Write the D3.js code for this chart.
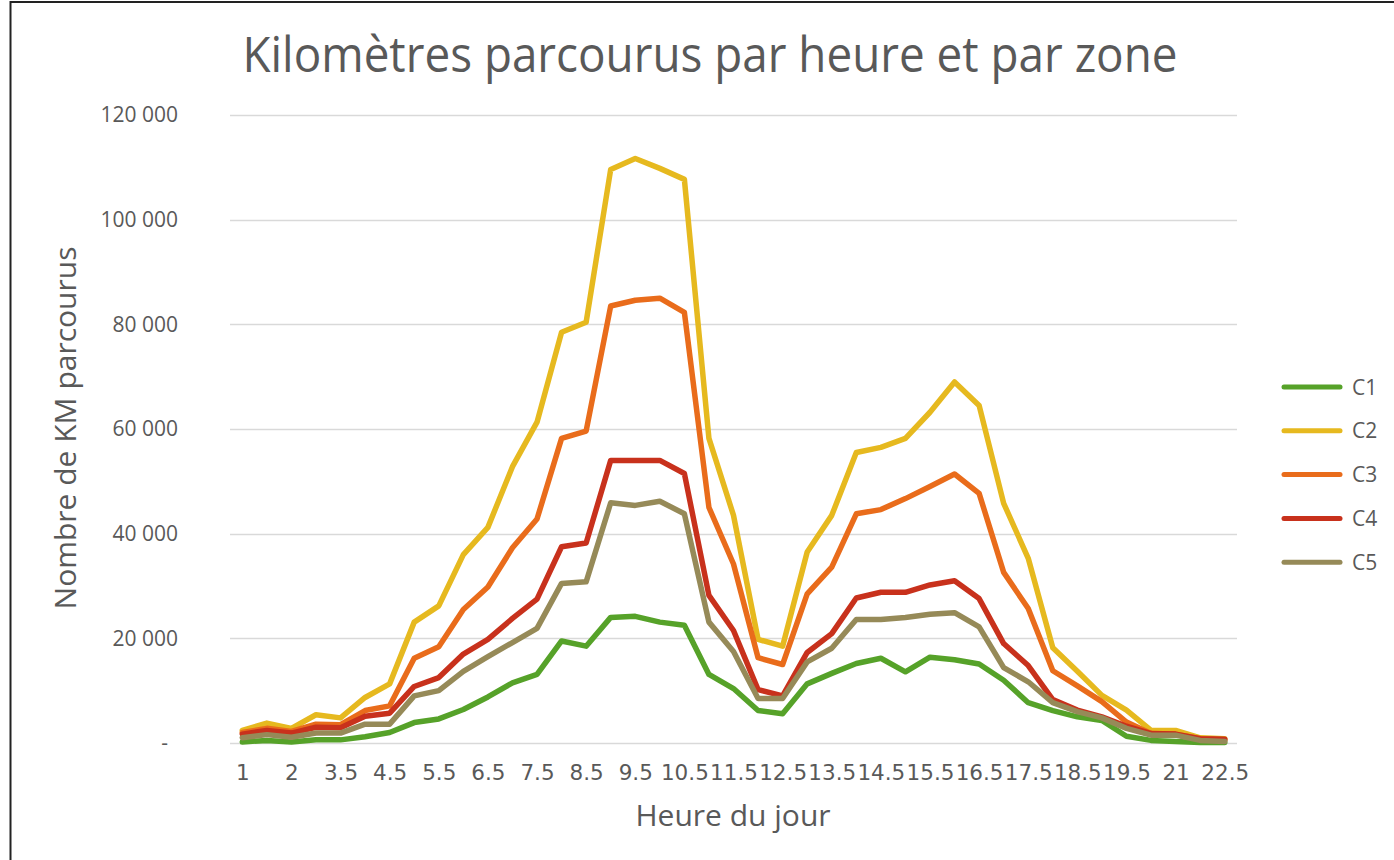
<!DOCTYPE html>
<html>
<head>
<meta charset="utf-8">
<script src="https://cdn.jsdelivr.net/npm/d3@7"></script>
<style>
body { margin: 0; background: #fff; }
text { font-family: "Open Sans", sans-serif; fill: #595959; }
</style>
</head>
<body>
<script>
var width = 1394,
    height = 860;

//data
var hours = ["1", "1.5", "2", "3", "3.5", "4", "4.5", "5", "5.5", "6", "6.5", "7", "7.5", "8", "8.5",
  "9", "9.5", "10", "10.5", "11", "11.5", "12", "12.5", "13", "13.5", "14", "14.5", "15", "15.5",
  "16", "16.5", "17", "17.5", "18", "18.5", "19", "19.5", "20", "21", "22", "22.5"];

var zones = ["C1", "C2", "C3", "C4", "C5"];
var colors = ["#56a229", "#e6b91f", "#e96c1b", "#c8311c", "#968a58"];

var c1 = [200, 500, 200, 600, 600, 1200, 2000, 3900, 4600, 6400, 8800, 11500, 13100, 19500, 18500,
  24000, 24200, 23100, 22500, 13100, 10400, 6200, 5600, 11300, 13300, 15200, 16200, 13600, 16400,
  15900, 15100, 12000, 7700, 6200, 5000, 4300, 1300, 500, 300, 100, 100];
var c2 = [2400, 3800, 2800, 5400, 4800, 8700, 11300, 23100, 26200, 36000, 41200, 52800, 61300, 78500, 80400,
  109600, 111700, 109800, 107700, 58200, 43500, 19800, 18500, 36500, 43500, 55500, 56500, 58200, 63200,
  69000, 64500, 45800, 35300, 18200, 13700, 9100, 6300, 2400, 2400, 1000, 800];
var c3 = [2000, 2800, 2200, 3600, 3500, 6200, 7100, 16200, 18400, 25500, 29800, 37300, 42800, 58200, 59600,
  83500, 84600, 85000, 82300, 45000, 34200, 16300, 15000, 28500, 33600, 43800, 44600, 46700, 49000,
  51400, 47700, 32600, 25700, 13800, 10900, 7900, 4000, 1800, 1700, 800, 600];
var c4 = [1700, 2400, 1900, 3000, 2900, 5100, 5700, 10800, 12500, 17000, 19800, 23800, 27500, 37500, 38200,
  54000, 54000, 54000, 51500, 28200, 21500, 10200, 9000, 17300, 20900, 27700, 28800, 28800, 30200,
  31000, 27600, 19000, 14800, 8300, 6300, 5000, 3200, 1800, 1700, 800, 700];
var c5 = [1000, 1600, 1100, 1900, 1900, 3600, 3600, 9000, 10000, 13700, 16500, 19200, 21900, 30500, 30800,
  45900, 45400, 46200, 43800, 23100, 17500, 8500, 8500, 15500, 18100, 23600, 23600, 24000, 24600,
  24900, 22200, 14400, 11700, 7700, 6000, 4800, 2800, 1500, 1500, 500, 300];

var yTicks = [0, 20000, 40000, 60000, 80000, 100000, 120000];

var series = [c1, c2, c3, c4, c5].map(function(vals, i) {
  return { name: zones[i], color: colors[i], values: vals };
});

var svg = d3.select("body").append("svg")
    .attr("width", width)
    .attr("height", height);

// frame
svg.append("path")
    .attr("d", "M10.5,860 V2 H1394")
    .attr("fill", "none")
    .attr("stroke", "#222")
    .attr("stroke-width", 2);

var x = d3.scalePoint()
    .domain(hours)
    .range([230, 1237])
    .padding(0.5);

var y = d3.scaleLinear()
    .domain([0, 120000])
    .range([743, 115]);

var fmt = d3.formatLocale({ decimal: ",", thousands: " ", grouping: [3], currency: ["", ""] }).format(",");

// gridlines
svg.append("g")
    .selectAll("line")
    .data(yTicks)
    .enter()
    .append("line")
    .attr("x1", 230)
    .attr("x2", 1237)
    .attr("y1", function(d) { return Math.round(y(d)) + 0.5; })
    .attr("y2", function(d) { return Math.round(y(d)) + 0.5; })
    .attr("stroke", "#d9d9d9")
    .attr("stroke-width", 1.5);

// y axis labels
var yAxis = svg.append("g")
    .attr("transform", "translate(178,0)")
    .call(d3.axisLeft(y).tickValues(yTicks).tickSize(0).tickPadding(0)
      .tickFormat(function(d) { return d === 0 ? "-" : fmt(d); }));
yAxis.select(".domain").remove();
yAxis.selectAll("text")
    .style("font-family", "'Open Sans'")
    .style("font-size", "21px")
    .style("fill", "#595959")
    .attr("dx", function(d) { return d === 0 ? -10 : 0; });

// x axis labels (every second hour shown)
var xAxis = svg.append("g")
    .attr("transform", "translate(0,765)")
    .call(d3.axisBottom(x)
      .tickValues(hours.filter(function(d, i) { return i % 2 === 0; }))
      .tickSize(0).tickPadding(0));
xAxis.select(".domain").remove();
xAxis.selectAll("text")
    .style("font-family", "'DejaVu Sans'")
    .style("font-size", "21.5px")
    .style("fill", "#595959")
    .attr("dy", "0.72em");

// lines
var line = d3.line()
    .x(function(d, i) { return x(hours[i]); })
    .y(function(d) { return y(d); });

svg.append("g")
    .selectAll("path")
    .data(series)
    .enter()
    .append("path")
    .attr("d", function(d) { return line(d.values); })
    .attr("fill", "none")
    .attr("stroke", function(d) { return d.color; })
    .attr("stroke-width", 5.5)
    .attr("stroke-linejoin", "round")
    .attr("stroke-linecap", "round");

// title
svg.append("text")
    .attr("x", 710)
    .attr("y", 72)
    .attr("text-anchor", "middle")
    .attr("textLength", 935)
    .attr("lengthAdjust", "spacingAndGlyphs")
    .style("font-size", "50px")
    .text("Kilomètres parcourus par heure et par zone");

// axis titles
svg.append("text")
    .attr("x", 733)
    .attr("y", 826)
    .attr("text-anchor", "middle")
    .style("font-size", "30px")
    .text("Heure du jour");

svg.append("text")
    .attr("transform", "translate(76,428) rotate(-90)")
    .attr("text-anchor", "middle")
    .style("font-size", "30px")
    .text("Nombre de KM parcourus");

//legend
var legend = svg.append("g")
    .selectAll("g")
    .data(series)
    .enter()
    .append("g")
    .attr("transform", function(d, i) { return "translate(1284," + (387 + i * 43.8) + ")"; });

legend.append("line")
    .attr("x1", 0)
    .attr("x2", 56)
    .attr("stroke", function(d) { return d.color; })
    .attr("stroke-width", 5)
    .attr("stroke-linecap", "round");

legend.append("text")
    .attr("x", 68)
    .attr("dy", "0.36em")
    .style("font-size", "21px")
    .text(function(d) { return d.name; });
</script>
</body>
</html>
